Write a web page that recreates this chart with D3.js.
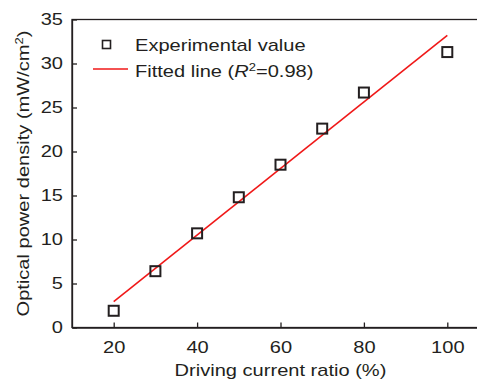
<!DOCTYPE html>
<html>
<head>
<meta charset="utf-8">
<script src="https://cdn.jsdelivr.net/npm/d3@7"></script>
<style>
  body { margin: 0; background: #fff; }
  svg { display: block; font-family: "Liberation Sans", Arial, sans-serif; }
</style>
</head>
<body>
<svg id="chart" width="477" height="385"></svg>
<script>
// experimental points
const currentRatio = [20, 30, 40, 50, 60, 70, 80, 100];
const powerDensity = [1.9, 6.4, 10.7, 14.8, 18.5, 22.6, 26.7, 31.3];

// fitted line endpoints (R^2 = 0.98)
const fitX = [20, 100];
const fitY = [2.95, 33.2];

const xTicks = [20, 40, 60, 80, 100];
const yTicks = [0, 5, 10, 15, 20, 25, 30, 35];

const ink = "#231f20";
const svg = d3.select("#chart");
const margin = {left: 72, top: 19.5, right: -12, bottom: 57.5};
const W = 477, H = 385;

// the source figure's lettering is a bit wider than plain Arial
const widen = 1.18;
function stretch(sel) {
  sel.each(function () {
    const len = this.getComputedTextLength();
    d3.select(this)
      .attr("textLength", len * widen)
      .attr("lengthAdjust", "spacingAndGlyphs");
  });
}

const x = d3.scaleLinear().domain([10, 110]).range([margin.left, W - margin.right]);
const y = d3.scaleLinear().domain([0, 35]).range([H - margin.bottom, margin.top]);

// frame
svg.append("rect")
  .attr("x", x(10)).attr("y", y(35))
  .attr("width", x(110) - x(10)).attr("height", y(0) - y(35))
  .attr("fill", "none").attr("stroke", ink).attr("stroke-width", 1.3);

// axes with inward ticks
const xAxis = svg.append("g")
  .attr("transform", `translate(0,${y(0)})`)
  .call(d3.axisBottom(x).tickValues(xTicks).tickSizeInner(-5).tickSizeOuter(0).tickPadding(13));
const yAxis = svg.append("g")
  .attr("transform", `translate(${x(10)},0)`)
  .call(d3.axisLeft(y).tickValues(yTicks).tickSizeInner(-5).tickSizeOuter(0).tickPadding(9));

[xAxis, yAxis].forEach(g => {
  g.select(".domain").attr("stroke", ink).attr("stroke-width", 1.3);
  g.selectAll(".tick line").attr("stroke", ink).attr("stroke-width", 1.3);
  g.selectAll(".tick text")
    .attr("fill", ink)
    .style("font-size", "17px")
    .style("font-family", "'Liberation Sans', Arial, sans-serif")
    .call(stretch);
});

// fitted line
const line = d3.line().x(d => x(d[0])).y(d => y(d[1]));
svg.append("path")
  .datum(d3.zip(fitX, fitY))
  .attr("d", line)
  .attr("fill", "none")
  .attr("stroke", "#f01818")
  .attr("stroke-width", 1.6);

// square markers
const s = 10;
svg.selectAll(".pt")
  .data(d3.zip(currentRatio, powerDensity))
  .enter().append("rect")
  .attr("class", "pt")
  .attr("x", d => x(d[0]) - s / 2)
  .attr("y", d => y(d[1]) - s / 2)
  .attr("width", s).attr("height", s)
  .attr("fill", "none")
  .attr("stroke", ink)
  .attr("stroke-width", 2);

// legend
const lg = svg.append("g");
lg.append("rect")
  .attr("x", 102.5).attr("y", 40.5).attr("width", 8).attr("height", 8)
  .attr("fill", "none").attr("stroke", ink).attr("stroke-width", 1.6);
lg.append("text")
  .attr("x", 135).attr("y", 51)
  .attr("fill", ink).style("font-size", "17px")
  .text("Experimental value")
  .call(stretch);
lg.append("line")
  .attr("x1", 93).attr("x2", 128).attr("y1", 69).attr("y2", 69)
  .attr("stroke", "#f01818").attr("stroke-width", 1.6);
const ft = lg.append("text")
  .attr("x", 135).attr("y", 77)
  .attr("fill", ink).style("font-size", "17px");
ft.append("tspan").text("Fitted line (");
ft.append("tspan").style("font-style", "italic").text("R");
ft.append("tspan").attr("dy", -6).style("font-size", "11px").text("2");
ft.append("tspan").attr("dy", 6).text("=0.98)");
ft.call(stretch);

// axis titles
svg.append("text")
  .attr("x", (x(10) + x(110)) / 2).attr("y", 376)
  .attr("text-anchor", "middle")
  .attr("fill", ink).style("font-size", "17px")
  .text("Driving current ratio (%)")
  .call(stretch);

const yt = svg.append("text")
  .attr("transform", `translate(29,${(y(0) + y(35)) / 2}) rotate(-90)`)
  .attr("text-anchor", "middle")
  .attr("fill", ink).style("font-size", "17px");
yt.append("tspan").text("Optical power density (mW/cm");
yt.append("tspan").attr("dy", -6).style("font-size", "11px").text("2");
yt.append("tspan").attr("dy", 6).text(")");
yt.call(stretch);
</script>
</body>
</html>
